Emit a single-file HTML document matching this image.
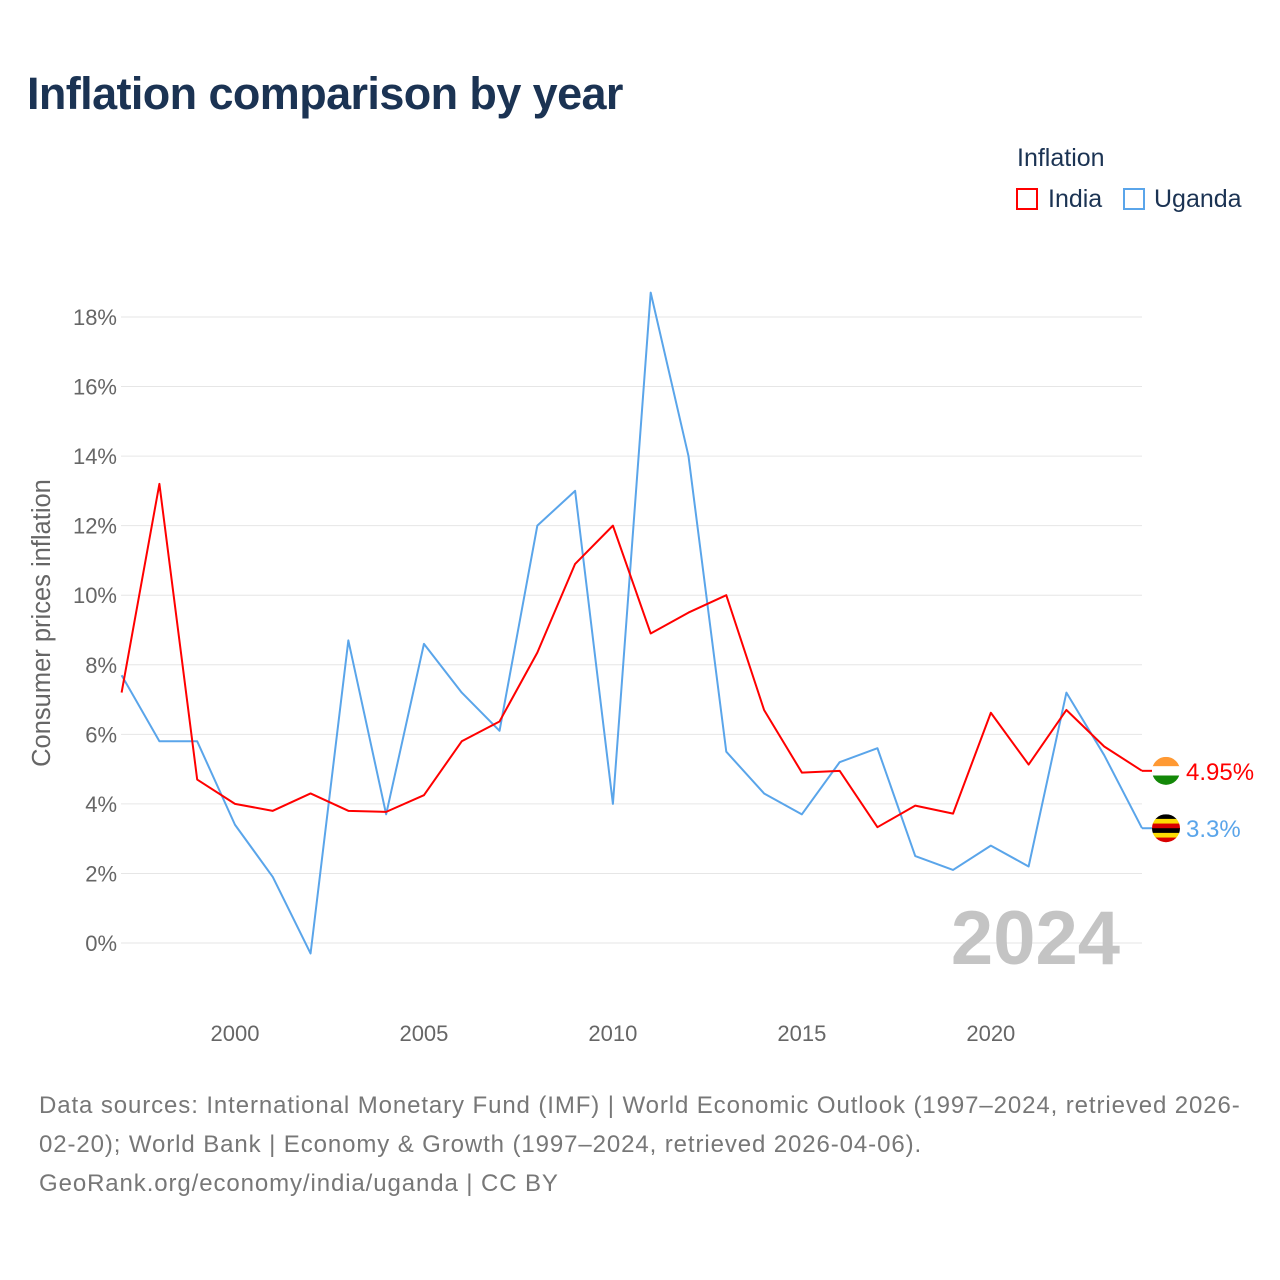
<!DOCTYPE html>
<html><head><meta charset="utf-8">
<style>
body{margin:0;background:#fff;font-family:"Liberation Sans",sans-serif;}
#wrap{position:relative;width:1280px;height:1280px;overflow:hidden;}
.t{position:absolute;white-space:nowrap;}
</style></head>
<body>
<div id="wrap">
<div class="t" style="left:27px;top:68px;font-size:45px;font-weight:bold;color:#1b3353;letter-spacing:-0.6px;">Inflation comparison by year</div>
<div class="t" style="left:1017px;top:144px;font-size:25px;color:#1b3353;">Inflation</div>
<div style="position:absolute;left:1016px;top:188px;">
  <div style="position:absolute;left:0;top:0;width:22px;height:22px;border:2px solid #f00;box-sizing:border-box;"></div>
  <div class="t" style="left:32px;top:-3px;font-size:25px;color:#1b3353;">India</div>
</div>
<div style="position:absolute;left:1123px;top:188px;">
  <div style="position:absolute;left:0;top:0;width:22px;height:22px;border:2px solid #5aa5ea;box-sizing:border-box;"></div>
  <div class="t" style="left:31px;top:-3px;font-size:25px;color:#1b3353;">Uganda</div>
</div>
<svg id="chart" width="1280" height="1280" style="position:absolute;left:0;top:0;"></svg>
<div class="t" style="left:39px;top:1086px;font-size:24px;line-height:39px;color:#777;letter-spacing:0.9px;">Data sources: International Monetary Fund (IMF) | World Economic Outlook (1997–2024, retrieved 2026-<br>02-20); World Bank | Economy &amp; Growth (1997–2024, retrieved 2026-04-06).<br>GeoRank.org/economy/india/uganda | CC BY</div>
</div>
<script>
const years=[1997,1998,1999,2000,2001,2002,2003,2004,2005,2006,2007,2008,2009,2010,2011,2012,2013,2014,2015,2016,2017,2018,2019,2020,2021,2022,2023,2024];
const india=[7.2,13.2,4.7,4.0,3.8,4.3,3.8,3.77,4.25,5.8,6.37,8.35,10.9,12.0,8.9,9.5,10.0,6.7,4.9,4.95,3.33,3.95,3.72,6.62,5.13,6.7,5.65,4.95];
const uganda=[7.7,5.8,5.8,3.4,1.9,-0.3,8.7,3.7,8.6,7.2,6.1,12.0,13.0,4.0,18.7,14.0,5.5,4.3,3.7,5.2,5.6,2.5,2.1,2.8,2.2,7.2,5.4,3.3];
const yTicks=[0,2,4,6,8,10,12,14,16,18];
const xTicks=[2000,2005,2010,2015,2020];
const NS="http://www.w3.org/2000/svg";
const svg=document.getElementById('chart');
const x=v=>121.6+(v-1997)*(1142-121.6)/27;
const y=v=>943-v*34.78;
function mk(t,a){const e=document.createElementNS(NS,t);for(const k in a)e.setAttribute(k,a[k]);svg.appendChild(e);return e;}
yTicks.forEach(v=>{
  const g=mk('line',{x1:121,x2:1142,y1:y(v),y2:y(v),stroke:'#e6e6e6','stroke-width':1});
  
  
  const t=mk('text',{x:117,y:y(v)+8,'text-anchor':'end','font-size':22,fill:'#666','font-family':'Liberation Sans, sans-serif'});
  t.textContent=v+'%';
  
  
});
xTicks.forEach(v=>{
  const t=mk('text',{x:x(v),y:1041,'text-anchor':'middle','font-size':22,fill:'#666','font-family':'Liberation Sans, sans-serif'});
  t.textContent=v;
  
  
});
const yt=mk('text',{x:0,y:0,transform:'translate(50,623) rotate(-90)','text-anchor':'middle','font-size':25.5,fill:'#666','font-family':'Liberation Sans, sans-serif'});
yt.textContent='Consumer prices inflation';


const yr=mk('text',{x:1120,y:964,'text-anchor':'end','font-size':76,'font-weight':'bold',fill:'#c4c4c4','font-family':'Liberation Sans, sans-serif'});
yr.textContent='2024';


function line(data,color,name){
  const p=mk('polyline',{points:data.map((v,i)=>x(years[i])+','+y(v)).join(' '),fill:'none',stroke:color,'stroke-width':2,'stroke-linejoin':'round'});
  
  
}
line(uganda,'#5aa5ea','uganda-line');
line(india,'#f00','india-line');
function endLabel(data,color,name,flag){
  const v=data[data.length-1], cy=y(v);
  mk('line',{x1:1142,x2:1152,y1:cy,y2:cy,stroke:color,'stroke-width':2});
  const g=document.createElementNS(NS,'g');svg.appendChild(g);
  
  
  const cp=document.createElementNS(NS,'clipPath');cp.setAttribute('id','c'+name);
  const cc=document.createElementNS(NS,'circle');cc.setAttribute('cx',1166);cc.setAttribute('cy',cy);cc.setAttribute('r',14);cp.appendChild(cc);g.appendChild(cp);
  const inner=document.createElementNS(NS,'g');inner.setAttribute('clip-path','url(#c'+name+')');g.appendChild(inner);
  flag.forEach((c,i)=>{const r=document.createElementNS(NS,'rect');r.setAttribute('x',1152);r.setAttribute('y',cy-14+i*28/flag.length);r.setAttribute('width',28);r.setAttribute('height',28/flag.length+0.5);r.setAttribute('fill',c);inner.appendChild(r);});
  const t=mk('text',{x:1186,y:cy+9,'font-size':24,fill:color,'font-family':'Liberation Sans, sans-serif'});
  t.textContent=(Math.round(v*100)/100)+'%';
  
  
}
endLabel(india,'#f00','india',['#f93','#fff','#138808']);
endLabel(uganda,'#5aa5ea','uganda',['#000','#fcdc04','#d90000','#000','#fcdc04','#d90000']);
</script>
</body></html>
